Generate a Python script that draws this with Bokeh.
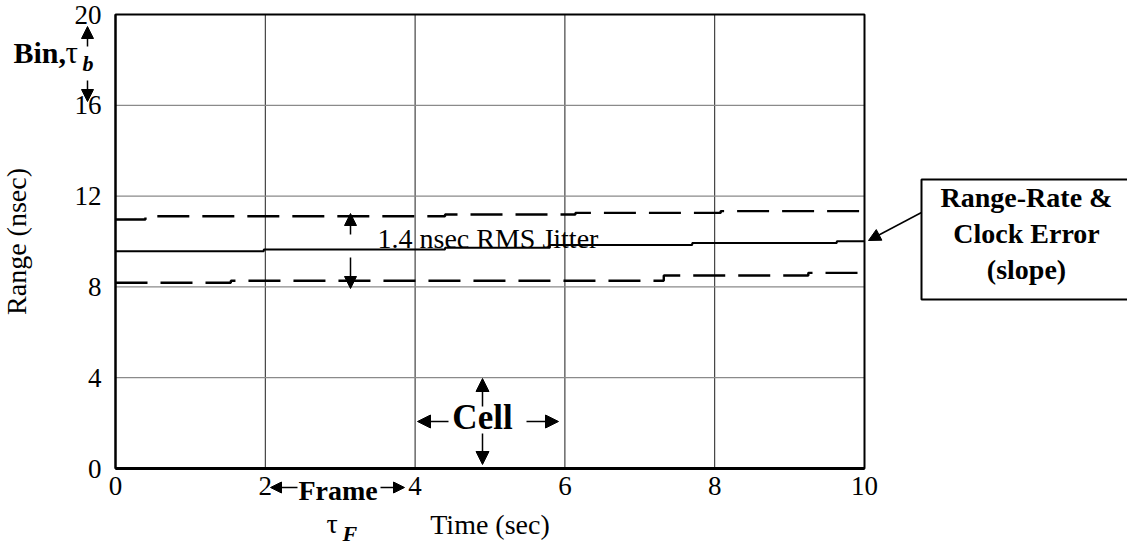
from bokeh.plotting import figure
from bokeh.models import Range1d, FixedTicker, Label, Arrow, NormalHead, BoxAnnotation
from bokeh.embed import file_html
from bokeh.resources import INLINE

# ---- data ----
x_ticks = [0, 2, 4, 6, 8, 10]
y_ticks = [0, 4, 8, 12, 16, 20]

solid_x = [0, 1.98, 4.4, 5.8, 7.70, 9.63, 10]
solid_y = [9.57, 9.65, 9.72, 9.85, 9.93, 10.01, 10.01]
upper_x = [0, 0.40, 4.4, 6.14, 8.08, 10]
upper_y = [10.97, 11.11, 11.19, 11.26, 11.34, 11.34]
lower_x = [0, 1.54, 7.32, 9.25, 10]
lower_y = [8.18, 8.27, 8.50, 8.62, 8.62]

SERIF = "Liberation Serif"

# data-area geometry on the canvas (px)
FL, FR, FT, FB = 115, 864, 14, 468
W, H = 1127, 546
XMIN, XMAX = x_ticks[0], x_ticks[-1]
YMIN, YMAX = y_ticks[0], y_ticks[-1]
XS = (FR - FL) / (XMAX - XMIN)
YS = (FB - FT) / (YMAX - YMIN)


def dx(px):
    return XMIN + (px - FL) / XS


def dy(py):
    return YMIN + (FB - py) / YS


# the frame covers the whole canvas so that annotations outside the data area are not clipped
p = figure(width=W, height=H, x_range=Range1d(dx(0), dx(W)), y_range=Range1d(dy(H), dy(0)),
           output_backend="svg", toolbar_location=None,
           min_border_left=0, min_border_right=0, min_border_top=0, min_border_bottom=0)
p.title.visible = False
p.background_fill_color = "white"
p.border_fill_color = "white"
p.outline_line_color = None
p.grid.visible = False

p.xaxis.ticker = FixedTicker(ticks=x_ticks)
p.yaxis.ticker = FixedTicker(ticks=y_ticks)
p.xaxis.fixed_location = YMIN
p.yaxis.fixed_location = XMIN
p.xaxis.bounds = (XMIN, XMAX)
p.yaxis.bounds = (YMIN, YMAX)
for ax in (p.xaxis, p.yaxis):
    ax.major_tick_line_color = None
    ax.minor_tick_line_color = None
    ax.major_tick_out = 0
    ax.major_tick_in = 0
    ax.minor_tick_out = 0
    ax.minor_tick_in = 0
    ax.axis_line_color = "black"
    ax.major_label_text_font = SERIF
    ax.major_label_text_font_size = "27px"
    ax.major_label_text_color = "black"
    ax.axis_label_text_font = SERIF
    ax.axis_label_text_font_size = "28px"
    ax.axis_label_text_font_style = "normal"
    ax.axis_label_text_color = "black"
p.xaxis.axis_line_width = 3
p.yaxis.axis_line_width = 2
p.xaxis.axis_label = "Time (sec)"
p.yaxis.axis_label = "Range (nsec)"
p.xaxis.major_label_text_align = "left"
p.xaxis.major_label_standoff = 8
p.xaxis.axis_label_standoff = 11
p.yaxis.major_label_standoff = 14
p.yaxis.axis_label_standoff = 40

# grid lines at the inner ticks
gx = x_ticks[1:-1]
gy = y_ticks[1:-1]
p.segment(x0=gx, y0=[YMIN] * len(gx), x1=gx, y1=[YMAX] * len(gx),
          line_color="#1e1e1e", line_width=1)
p.segment(x0=[XMIN] * len(gy), y0=gy, x1=[XMAX] * len(gy), y1=gy,
          line_color="#8a8a8a", line_width=1.2)

# data-area border (top and right; left/bottom are the axes)
p.add_layout(BoxAnnotation(left=XMIN, right=XMAX, bottom=YMIN, top=YMAX,
                           fill_color=None, line_color="black", line_alpha=1.0, line_width=2))

# ---- series ----
p.step(upper_x, upper_y, mode="after", line_color="black", line_width=2.4, line_dash="32 13")
p.step(lower_x, lower_y, mode="after", line_color="black", line_width=2.4, line_dash="32 13")
p.step(solid_x, solid_y, mode="after", line_color="black", line_width=2)


def arrow(x0, y0, x1, y1, size=12, lw=1.5):
    p.add_layout(Arrow(end=NormalHead(size=size, fill_color="black", line_color="black"),
                       x_start=dx(x0), y_start=dy(y0), x_end=dx(x1), y_end=dy(y1),
                       line_color="black", line_width=lw))


BASE_K = 0.36  # correction between wanted baseline and Bokeh's alphabetic placement


def label(px, py, text, size, style="normal", align="left"):
    p.add_layout(Label(x=dx(px), y=dy(py - BASE_K * size), text=text, text_font=SERIF,
                       text_font_size=f"{size}px", text_font_style=style,
                       text_align=align, text_baseline="alphabetic", text_color="black"))


# Bin annotation
label(13, 63, "Bin,", 30, "bold")
label(65, 63, "τ", 31)
label(82, 71, "b", 22, "bold italic")
arrow(87, 46, 87, 26)
arrow(87, 80, 87, 101)

# Jitter annotation
label(377, 248, "1.4 nsec RMS Jitter", 28)
arrow(350, 234, 350, 213)
arrow(350, 257, 350, 288)

# Cell annotation
label(482, 430, "Cell", 35, "bold", "center")
arrow(448, 421, 417, 421, 13)
arrow(526, 421, 558, 421, 13)
arrow(482, 406, 482, 378, 13)
arrow(482, 433, 482, 464, 13)

# Frame annotation
label(298, 500, "Frame", 28, "bold")
arrow(297, 487, 270, 487, 11)
arrow(380, 487, 404, 487, 11)
label(326, 533, "τ", 28)
label(342, 541, "F", 22, "bold italic")

# Callout box
p.add_layout(BoxAnnotation(left=dx(921), right=dx(1140), top=dy(179), bottom=dy(299),
                           fill_color="white", fill_alpha=1.0,
                           line_color="black", line_alpha=1.0, line_width=2))
label(1026, 207, "Range-Rate &", 28, "bold", "center")
label(1026, 243, "Clock Error", 28, "bold", "center")
label(1026, 279, "(slope)", 28, "bold", "center")
arrow(921, 212, 868, 240, 12)

open("out.html", "w").write(file_html(p, INLINE))
